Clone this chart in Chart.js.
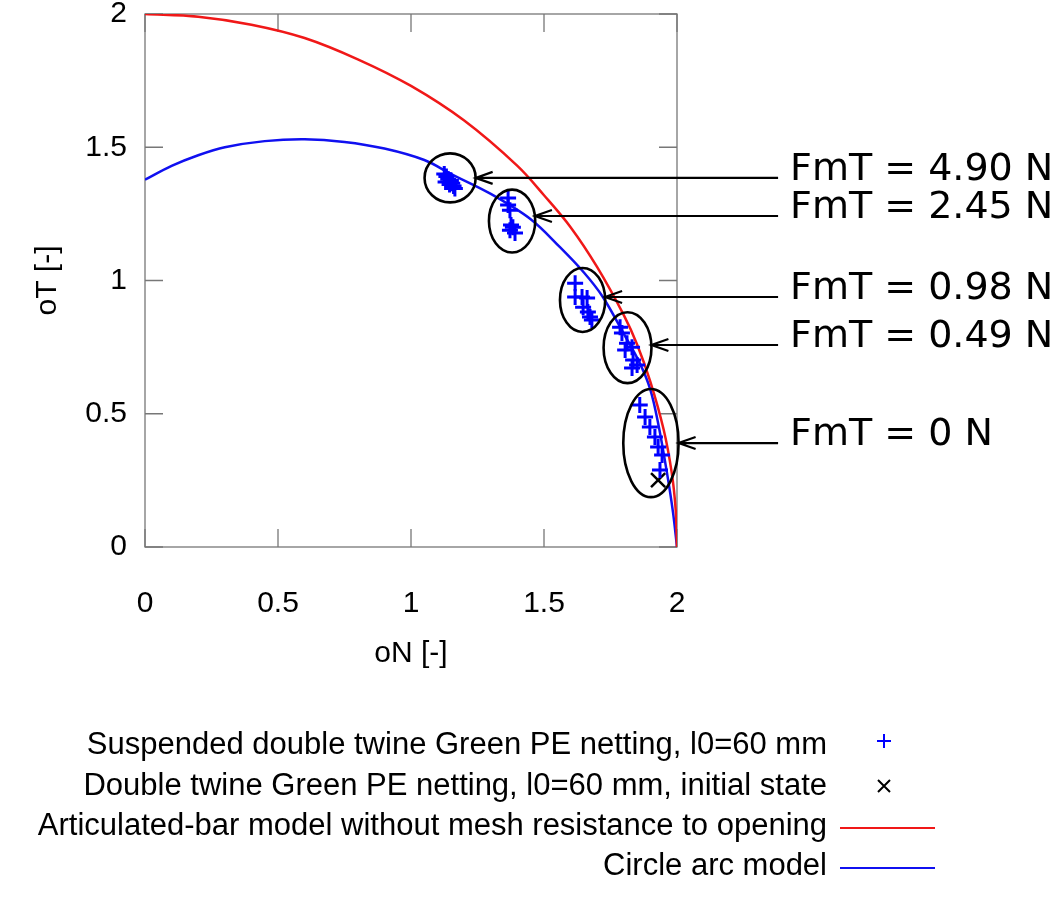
<!DOCTYPE html>
<html>
<head>
<meta charset="utf-8">
<script src="https://cdn.jsdelivr.net/npm/chart.js@4.4.1/dist/chart.umd.min.js"></script>
<style>
  html, body { margin: 0; padding: 0; background: #fff; }
</style>
</head>
<body>
<canvas id="chart" width="1060" height="899"></canvas>
<script>
// axis ticks
const xTicks = [0, 0.5, 1, 1.5, 2]
const yTicks = [0, 0.5, 1, 1.5, 2]

// measured points (oN, oT), five groups of crosses
const measuredX = [
  1.125, 1.133, 1.14, 1.15, 1.155, 1.16, 1.145, 1.165, 1.13,
  1.365, 1.365, 1.372, 1.383, 1.376, 1.372, 1.391,
  1.617, 1.617, 1.643, 1.662, 1.647, 1.665, 1.673, 1.68,
  1.786, 1.793, 1.812, 1.831, 1.805, 1.835, 1.85, 1.831,
  1.86, 1.88, 1.898, 1.917, 1.929, 1.944, 1.936
]
const measuredY = [
  1.40, 1.39, 1.38, 1.375, 1.365, 1.355, 1.36, 1.345, 1.37,
  1.31, 1.283, 1.264, 1.20, 1.208, 1.189, 1.178,
  0.99, 0.938, 0.938, 0.934, 0.90, 0.882, 0.863, 0.852,
  0.825, 0.803, 0.765, 0.75, 0.739, 0.702, 0.683, 0.672,
  0.533, 0.488, 0.45, 0.413, 0.375, 0.345, 0.289
]
const initialX = [1.929]
const initialY = [0.251]

// articulated-bar model (red)
const barX = [0, 0.2, 0.4, 0.6, 0.8, 1.0, 1.2, 1.4, 1.5, 1.6, 1.7, 1.8, 1.85, 1.9, 1.95, 1.98, 1.995, 2.0]
const barY = [2.0, 1.99, 1.96, 1.91, 1.83, 1.73, 1.6, 1.43, 1.32, 1.2, 1.05, 0.87, 0.76, 0.62, 0.44, 0.28, 0.14, 0.0]

// circle arc model (blue)
const arcX = [0, 0.1, 0.2, 0.3, 0.45, 0.6, 0.75, 0.9, 1.05, 1.15, 1.3, 1.45, 1.56, 1.65, 1.72, 1.8, 1.86, 1.9, 1.93, 1.962, 1.985, 2.0]
const arcY = [1.378, 1.43, 1.47, 1.50, 1.523, 1.53, 1.52, 1.495, 1.452, 1.40, 1.325, 1.23, 1.125, 1.03, 0.94, 0.80, 0.69, 0.59, 0.46, 0.28, 0.13, 0.0]

// force annotations
const fmtLabels = ['FmT = 4.90 N', 'FmT = 2.45 N', 'FmT = 0.98 N', 'FmT = 0.49 N', 'FmT = 0 N']
const ellipseX = [1.147, 1.38, 1.645, 1.814, 1.902]
const ellipseY = [1.385, 1.223, 0.927, 0.748, 0.39]
const ellipseRX = [0.096, 0.087, 0.085, 0.09, 0.104]
const ellipseRY = [0.092, 0.118, 0.12, 0.133, 0.203]
const arrowY = [1.385, 1.242, 0.938, 0.758, 0.39]
const arrowTailX = 2.38
const labelX = 2.425

const seriesNames = [
  'Suspended double twine Green PE netting, l0=60 mm',
  'Double twine Green PE netting, l0=60 mm, initial state',
  'Articulated-bar model without mesh resistance to opening',
  'Circle arc model'
]

const toPoints = (xs, ys) => xs.map((v, i) => ({ x: v, y: ys[i] }))
const gnuFont = '"Liberation Sans", Arial, sans-serif'

// frame with inward ticks on all four sides
const framePlugin = {
  id: 'frame',
  beforeDatasetsDraw(chart) {
    const { ctx, chartArea: a, scales: { x, y } } = chart
    ctx.save()
    ctx.strokeStyle = '#777'
    ctx.lineWidth = 1.3
    ctx.strokeRect(a.left, a.top, a.right - a.left, a.bottom - a.top)
    ctx.beginPath()
    xTicks.forEach(v => {
      const px = x.getPixelForValue(v)
      ctx.moveTo(px, a.bottom); ctx.lineTo(px, a.bottom - 18)
      ctx.moveTo(px, a.top); ctx.lineTo(px, a.top + 18)
    })
    yTicks.forEach(v => {
      const py = y.getPixelForValue(v)
      ctx.moveTo(a.left, py); ctx.lineTo(a.left + 18, py)
      ctx.moveTo(a.right, py); ctx.lineTo(a.right - 18, py)
    })
    ctx.stroke()
    ctx.restore()
  }
}

// ellipses, arrows and FmT labels
const annotationPlugin = {
  id: 'annotations',
  afterDatasetsDraw(chart) {
    const { ctx, scales: { x, y } } = chart
    ctx.save()
    ctx.strokeStyle = '#000'
    ctx.fillStyle = '#000'
    fmtLabels.forEach((label, i) => {
      const cx = x.getPixelForValue(ellipseX[i])
      const cy = y.getPixelForValue(ellipseY[i])
      const rx = x.getPixelForValue(ellipseX[i] + ellipseRX[i]) - cx
      const ry = cy - y.getPixelForValue(ellipseY[i] + ellipseRY[i])
      ctx.lineWidth = 2.6
      ctx.beginPath()
      ctx.ellipse(cx, cy, rx, ry, 0, 0, Math.PI * 2)
      ctx.stroke()

      const ay = y.getPixelForValue(arrowY[i])
      const tip = cx + rx * Math.sqrt(Math.max(0, 1 - Math.pow((ay - cy) / ry, 2)))
      const tail = x.getPixelForValue(arrowTailX)
      ctx.lineWidth = 2.2
      ctx.beginPath()
      ctx.moveTo(tail, ay); ctx.lineTo(tip, ay)
      ctx.moveTo(tip + 17, ay - 6); ctx.lineTo(tip, ay); ctx.lineTo(tip + 17, ay + 6)
      ctx.stroke()

      ctx.font = '38px "DejaVu Sans"'
      ctx.textAlign = 'left'
      ctx.textBaseline = 'alphabetic'
      ctx.fillText(label, x.getPixelForValue(labelX), ay + 2)
    })
    ctx.restore()
  }
}

// gnuplot-style key: text right aligned, sample on the right
const keyPlugin = {
  id: 'key',
  afterDraw(chart) {
    const ctx = chart.ctx
    const textRight = 827, sampleL = 840, sampleR = 935, sampleC = 884
    const rows = [745, 786, 826, 866]
    ctx.save()
    ctx.font = '31px ' + gnuFont
    ctx.textAlign = 'right'
    ctx.textBaseline = 'middle'
    chart.data.datasets.forEach((ds, i) => {
      const ry = rows[i]
      ctx.fillStyle = '#000'
      ctx.fillText(ds.label, textRight, ry)
      ctx.strokeStyle = ds.borderColor
      ctx.lineWidth = 2
      ctx.beginPath()
      if (ds.pointStyle === 'cross') {
        ctx.moveTo(sampleC - 7, ry - 4); ctx.lineTo(sampleC + 7, ry - 4)
        ctx.moveTo(sampleC, ry - 11); ctx.lineTo(sampleC, ry + 3)
      } else if (ds.pointStyle === 'crossRot') {
        ctx.moveTo(sampleC - 6, ry - 6); ctx.lineTo(sampleC + 6, ry + 6)
        ctx.moveTo(sampleC + 6, ry - 6); ctx.lineTo(sampleC - 6, ry + 6)
      } else {
        ctx.moveTo(sampleL, ry + 2); ctx.lineTo(sampleR, ry + 2)
      }
      ctx.stroke()
    })
    ctx.restore()
  }
}

const tickFont = { family: gnuFont, size: 30 }

const config = {
  type: 'scatter',
  data: {
    datasets: [
      {
        label: seriesNames[0],
        data: toPoints(measuredX, measuredY),
        pointStyle: 'cross',
        pointRadius: 8,
        pointBorderWidth: 3,
        borderColor: '#0000ff',
        backgroundColor: '#0000ff'
      },
      {
        label: seriesNames[1],
        data: toPoints(initialX, initialY),
        pointStyle: 'crossRot',
        pointRadius: 10,
        pointBorderWidth: 2.5,
        borderColor: '#000000',
        backgroundColor: '#000000'
      },
      {
        label: seriesNames[2],
        data: toPoints(barX, barY),
        showLine: true,
        pointRadius: 0,
        borderWidth: 2.5,
        tension: 0.35,
        borderColor: '#f01818',
        backgroundColor: '#f01818'
      },
      {
        label: seriesNames[3],
        data: toPoints(arcX, arcY),
        showLine: true,
        pointRadius: 0,
        borderWidth: 2.5,
        tension: 0.35,
        borderColor: '#1010f0',
        backgroundColor: '#1010f0'
      }
    ]
  },
  options: {
    responsive: false,
    animation: false,
    layout: { padding: { left: 0, right: 383, top: 14, bottom: 222 } },
    plugins: {
      legend: { display: false },
      tooltip: { enabled: false }
    },
    scales: {
      x: {
        type: 'linear',
        min: 0,
        max: 2,
        afterBuildTicks: s => { s.ticks = xTicks.map(v => ({ value: v })) },
        afterFit: s => { s.height = 130; s.paddingLeft = 0; s.paddingRight = 0 },
        grid: { display: false },
        border: { display: false },
        ticks: { color: '#000', padding: 31, maxRotation: 0, font: tickFont, callback: v => String(v) },
        title: { display: true, text: 'oN [-]', color: '#000', padding: { top: 0, bottom: 5 }, font: tickFont }
      },
      y: {
        type: 'linear',
        min: 0,
        max: 2,
        afterBuildTicks: s => { s.ticks = yTicks.map(v => ({ value: v })) },
        afterFit: s => { s.width = 145; s.paddingTop = 0; s.paddingBottom = 0 },
        grid: { display: false },
        border: { display: false },
        ticks: { color: '#000', padding: 10, font: tickFont, callback: v => String(v) },
        title: { display: true, text: 'oT [-]', color: '#000', padding: { top: 30, bottom: 0 }, font: tickFont }
      }
    }
  },
  plugins: [framePlugin, annotationPlugin, keyPlugin]
}

let chart = new Chart(document.getElementById('chart').getContext('2d'), config)
</script>
</body>
</html>
